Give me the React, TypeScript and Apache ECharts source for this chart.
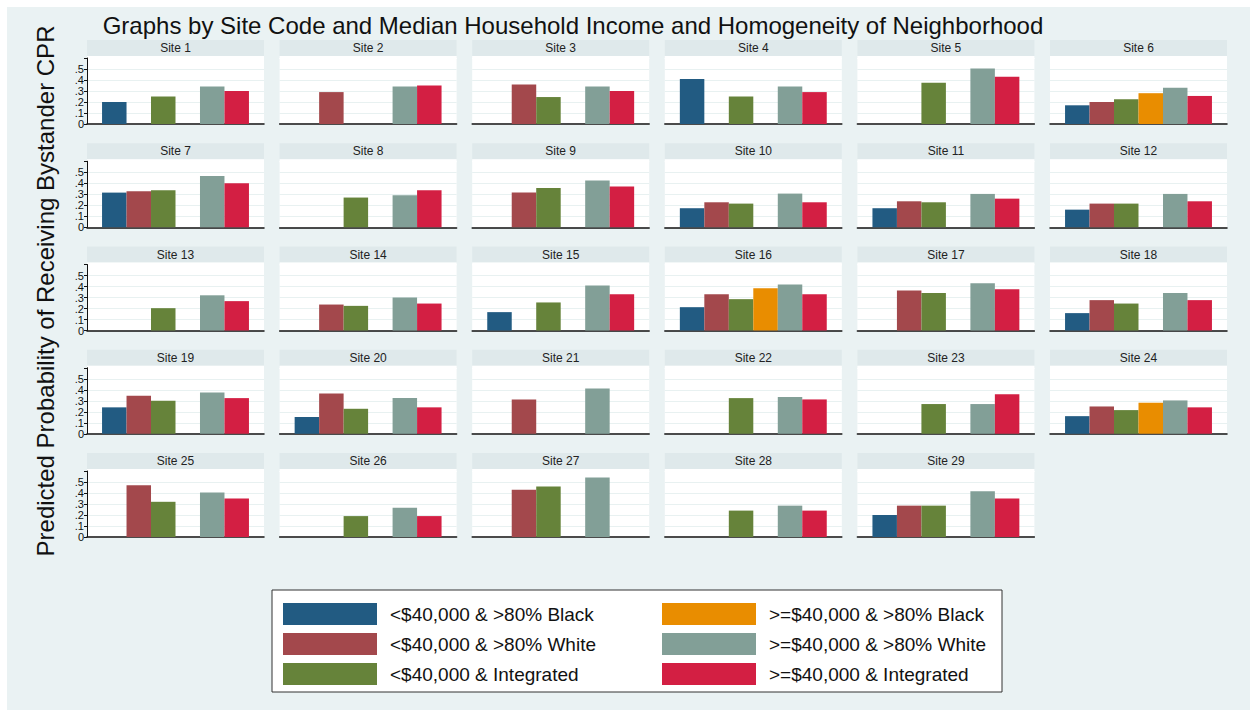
import React, { useEffect, useRef } from "react";
import * as echarts from "echarts";

const categories = [
  "<$40,000 & >80% Black",
  "<$40,000 & >80% White",
  "<$40,000 & Integrated",
  ">=$40,000 & >80% Black",
  ">=$40,000 & >80% White",
  ">=$40,000 & Integrated",
];

const colors = ["#225B82", "#A3484C", "#66833A", "#E98D00", "#829F97", "#D31F43"];

const sites = Array.from({ length: 29 }, (_, i) => `Site ${i + 1}`);

const blackLow = [0.20, null, null, 0.41, null, 0.17, 0.315, null, null, 0.173, 0.173, 0.16, null, null, 0.167, 0.212, null, 0.158, 0.24, 0.152, null, null, null, 0.16, null, null, null, null, 0.20];
const whiteLow = [null, 0.29, 0.36, null, null, 0.20, 0.327, null, 0.315, 0.227, 0.236, 0.215, null, 0.236, null, 0.33, 0.364, 0.276, 0.345, 0.367, 0.312, null, null, 0.248, 0.47, null, 0.43, null, 0.285];
const integratedLow = [0.25, null, 0.245, 0.25, 0.375, 0.225, 0.336, 0.27, 0.357, 0.215, 0.227, 0.215, 0.203, 0.224, 0.255, 0.285, 0.342, 0.245, 0.30, 0.227, null, 0.324, 0.27, 0.215, 0.32, 0.19, 0.46, 0.24, 0.285];
const blackHigh = [null, null, null, null, null, 0.28, null, null, null, null, null, null, null, null, null, 0.385, null, null, null, null, null, null, null, 0.282, null, null, null, null, null];
const whiteHigh = [0.34, 0.34, 0.34, 0.34, 0.505, 0.33, 0.467, 0.29, 0.424, 0.306, 0.303, 0.303, 0.32, 0.30, 0.41, 0.418, 0.43, 0.342, 0.376, 0.324, 0.412, 0.333, 0.27, 0.303, 0.405, 0.265, 0.54, 0.285, 0.415];
const integratedHigh = [0.30, 0.35, 0.30, 0.29, 0.43, 0.255, 0.40, 0.336, 0.37, 0.227, 0.26, 0.236, 0.267, 0.245, 0.33, 0.33, 0.376, 0.276, 0.324, 0.24, null, 0.312, 0.358, 0.24, 0.35, 0.19, null, 0.24, 0.35];

const seriesValues = [blackLow, whiteLow, integratedLow, blackHigh, whiteHigh, integratedHigh];

const yTicks = [0, 0.1, 0.2, 0.3, 0.4, 0.5];
const yTickLabels = ["0", ".1", ".2", ".3", ".4", ".5"];

const titleText = "Graphs by Site Code and Median Household Income and Homogeneity of Neighborhood";
const yTitle = "Predicted Probability of Receiving Bystander CPR";

const FONT = "'Liberation Sans', Arial, Helvetica, sans-serif";

export default function App() {
  const ref = useRef<HTMLDivElement>(null);

  useEffect(() => {
    if (!ref.current) return;
    const chart = echarts.init(ref.current, null, { renderer: "svg" });

    const ncols = 6;
    const colLeft0 = 87;
    const colPitch = 192.6;
    const panelW = 177;
    const base0 = 124;
    const rowPitch = 103.25;
    const plotH = 66;

    const grids: any[] = [];
    const xAxes: any[] = [];
    const yAxes: any[] = [];
    const series: any[] = [];
    const graphics: any[] = [
      {
        type: "rect",
        z: -100,
        shape: { x: 7, y: 7, width: 1243, height: 703 },
        style: { fill: "#EAF2F3" },
      },
    ];

    sites.forEach((site, i) => {
      const r = Math.floor(i / ncols);
      const c = i % ncols;
      const left = colLeft0 + c * colPitch;
      const base = base0 + r * rowPitch;
      const top = base - plotH;
      grids.push({
        left,
        top,
        width: panelW,
        height: plotH,
        show: true,
        backgroundColor: "#FFFFFF",
        borderWidth: 0,
        containLabel: false,
      });
      graphics.push({
        type: "rect",
        z: -50,
        shape: { x: left, y: base - 84, width: panelW, height: 16 },
        style: { fill: "#DFE9EB" },
      });
      graphics.push({
        type: "rect",
        z: -50,
        shape: { x: left, y: base - 68, width: panelW, height: 3 },
        style: { fill: "#FFFFFF" },
      });
      graphics.push({
        type: "text",
        z: 10,
        x: left + panelW / 2,
        y: base - 76,
        style: {
          text: site,
          fill: "#222",
          font: `12px ${FONT}`,
          textAlign: "center",
          textVerticalAlign: "middle",
        },
      });
      xAxes.push({
        gridIndex: i,
        type: "category",
        data: [""],
        axisLine: { show: true, lineStyle: { color: "#111", width: 1.5 } },
        axisTick: { show: false },
        axisLabel: { show: false },
        splitLine: { show: false },
      });
      const first = c === 0;
      yAxes.push({
        gridIndex: i,
        type: "value",
        min: 0,
        max: 0.6,
        interval: 0.1,
        axisLine: { show: first, lineStyle: { color: "#111", width: 1 } },
        axisTick: { show: first, length: 3, lineStyle: { color: "#111" } },
        axisLabel: {
          show: first,
          showMinLabel: true,
          hideOverlap: false,
          margin: 3,
          fontSize: 11,
          lineHeight: 10,
          fontFamily: FONT,
          color: "#111",
          formatter: (v: number) => {
            const k = yTicks.findIndex((t) => Math.abs(t - v) < 1e-6);
            return k >= 0 ? yTickLabels[k] : "";
          },
        },
        splitLine: {
          show: true,
          lineStyle: { color: ["#FFFFFF", "#E8F1F1", "#E8F1F1", "#E8F1F1", "#E8F1F1", "#E8F1F1", "#FFFFFF"], width: 1.2 },
        },
      });
      categories.forEach((cat, k) => {
        const v = seriesValues[k][i];
        series.push({
          type: "bar",
          name: cat,
          xAxisIndex: i,
          yAxisIndex: i,
          data: [v === null ? "-" : v],
          barGap: "0%",
          barCategoryGap: "17%",
          itemStyle: { color: colors[k] },
          emphasis: { disabled: true },
        });
      });
    });

    graphics.push({
      type: "rect",
      z: -40,
      shape: { x: 272, y: 590, width: 730, height: 102 },
      style: { fill: "#FFFFFF", stroke: "#333", lineWidth: 1 },
    });
    graphics.push({
      type: "text",
      x: 573,
      y: 25,
      style: {
        text: titleText,
        fill: "#111",
        font: `24px ${FONT}`,
        textAlign: "center",
        textVerticalAlign: "middle",
      },
    });
    graphics.push({
      type: "text",
      x: 45,
      y: 291,
      rotation: Math.PI / 2,
      style: {
        text: yTitle,
        fill: "#111",
        font: `24px ${FONT}`,
        textAlign: "center",
        textVerticalAlign: "middle",
      },
    });

    const legendCommon = {
      orient: "vertical",
      padding: 0,
      itemWidth: 94,
      itemHeight: 22,
      itemGap: 8,
      icon: "rect",
      selectedMode: false,
      textStyle: { fontSize: 19, fontFamily: FONT, color: "#111", padding: [0, 0, 0, 8] },
    };

    chart.setOption({
      animation: false,
      backgroundColor: "#FFFFFF",
      grid: grids,
      xAxis: xAxes,
      yAxis: yAxes,
      series,
      legend: [
        { ...legendCommon, left: 283, top: 603, data: categories.slice(0, 3) },
        { ...legendCommon, left: 662, top: 603, data: categories.slice(3, 6) },
      ],
      graphic: graphics,
    });

    return () => chart.dispose();
  }, []);

  return (
    <div
      ref={ref}
      style={{ position: "fixed", left: 0, top: 0, width: 1256, height: 717 }}
    />
  );
}
